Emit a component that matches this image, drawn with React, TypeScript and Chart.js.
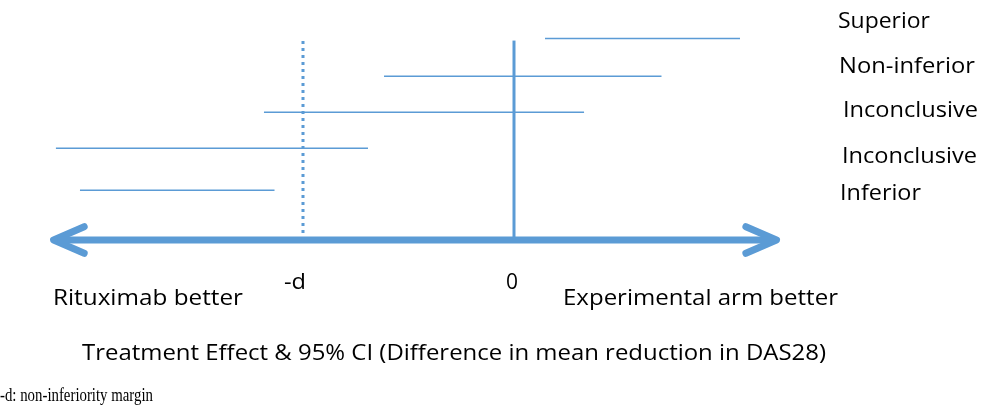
import React, { useEffect, useRef } from "react";
import { Chart, registerables } from "chart.js";

Chart.register(...registerables);

// ---- data ----
const outcomes = ["Superior", "Non-inferior", "Inconclusive", "Inconclusive", "Inferior"];
const ciLower = [0.147, -0.616, -1.185, -2.171, -2.057];
const ciUpper = [1.071, 0.699, 0.332, -0.692, -1.135];
const rowLevel = [5.6, 4.55, 3.55, 2.55, 1.38];
const marginValue = -1; // -d
const tickValues = [-1, 0];
const tickLabels = ["-d", "0"];
const axisEnds = [-2.182, 1.244];
const sideLabels = ["Rituximab better", "Experimental arm better"];
const axisTitle = "Treatment Effect & 95% CI (Difference in mean reduction in DAS28)";
const footnote = "-d: non-inferiority margin";

// ---- layout / style ----
const W = 982;
const H = 414;
const BLUE = "#5B9BD5";
const SANS = "'Open Sans'";
const X_MIN = -2.436;
const X_MAX = 2.218;
const Y_MIN = -4.833;
const Y_MAX = 6.667;
const REF_TOP_ZERO = 5.54;
const REF_TOP_MARGIN = 5.57;
const BARB_DX = 0.145;
const BARB_DY = 0.37;
const FONT = 21;

type TextItem = { text: string; x: number; y: number; w: number; size: number; family: string };

const outcomeLayout = [
  { x: 838, y: 28, w: 92 },
  { x: 839, y: 73, w: 136 },
  { x: 843, y: 117, w: 135 },
  { x: 842, y: 163, w: 135 },
  { x: 840, y: 200, w: 81 },
];

function drawText(ctx: CanvasRenderingContext2D, t: TextItem) {
  ctx.save();
  ctx.font = `${t.size}px ${t.family}`;
  const m = ctx.measureText(t.text).width || 1;
  ctx.translate(t.x, t.y);
  ctx.scale(t.w / m, 1);
  ctx.fillStyle = "#000";
  ctx.textBaseline = "alphabetic";
  ctx.textAlign = "left";
  ctx.fillText(t.text, 0, 0);
  ctx.restore();
}

const textPlugin = {
  id: "textPlugin",
  afterDraw(chart: any) {
    const ctx: CanvasRenderingContext2D = chart.ctx;
    const xs = chart.scales.x;
    outcomes.forEach((label, i) => {
      const l = outcomeLayout[i];
      drawText(ctx, { text: label, x: l.x, y: l.y, w: l.w, size: FONT, family: SANS });
    });
    const tickW = [22, 12];
    const tickShift = [-8, -2];
    tickValues.forEach((v, i) => {
      const px = xs.getPixelForValue(v);
      drawText(ctx, { text: tickLabels[i], x: px - tickW[i] / 2 + tickShift[i], y: 289, w: tickW[i], size: FONT, family: SANS });
    });
    drawText(ctx, { text: sideLabels[0], x: 53, y: 305, w: 190, size: FONT, family: SANS });
    drawText(ctx, { text: sideLabels[1], x: 563, y: 305, w: 275, size: FONT, family: SANS });
    drawText(ctx, { text: axisTitle, x: 82, y: 360, w: 744, size: FONT, family: SANS });
    drawText(ctx, { text: footnote, x: 0, y: 401, w: 153, size: 19.5, family: "'Liberation Serif'" });
  },
};

export default function App() {
  const ref = useRef<HTMLCanvasElement | null>(null);
  useEffect(() => {
    if (!ref.current) return;
    const ciSets = outcomes.map((_, i) => ({
      data: [
        { x: ciLower[i], y: rowLevel[i] },
        { x: ciUpper[i], y: rowLevel[i] },
      ],
      borderColor: BLUE,
      borderWidth: 1.5,
      pointRadius: 0,
      showLine: true,
    }));
    const datasets: any[] = [
      ...ciSets,
      {
        data: [
          { x: 0, y: 0 },
          { x: 0, y: REF_TOP_ZERO },
        ],
        borderColor: BLUE,
        borderWidth: 3,
        pointRadius: 0,
        showLine: true,
      },
      {
        data: [
          { x: marginValue, y: 0 },
          { x: marginValue, y: REF_TOP_MARGIN },
        ],
        borderColor: BLUE,
        borderWidth: 3,
        borderDash: [3, 4],
        pointRadius: 0,
        showLine: true,
      },
      {
        data: [
          { x: axisEnds[0] + 0.02, y: 0 },
          { x: axisEnds[1] - 0.02, y: 0 },
        ],
        borderColor: BLUE,
        borderWidth: 7,
        pointRadius: 0,
        showLine: true,
      },
      {
        data: [
          { x: axisEnds[0] + BARB_DX, y: BARB_DY },
          { x: axisEnds[0], y: 0 },
          { x: axisEnds[0] + BARB_DX, y: -BARB_DY },
        ],
        borderColor: BLUE,
        borderWidth: 7,
        borderCapStyle: "round",
        borderJoinStyle: "round",
        pointRadius: 0,
        showLine: true,
      },
      {
        data: [
          { x: axisEnds[1] - BARB_DX, y: BARB_DY },
          { x: axisEnds[1], y: 0 },
          { x: axisEnds[1] - BARB_DX, y: -BARB_DY },
        ],
        borderColor: BLUE,
        borderWidth: 7,
        borderCapStyle: "round",
        borderJoinStyle: "round",
        pointRadius: 0,
        showLine: true,
      },
    ];
    const chart = new Chart(ref.current, {
      type: "scatter",
      data: { datasets },
      options: {
        animation: false,
        responsive: false,
        events: [],
        layout: { padding: 0 },
        plugins: { legend: { display: false }, tooltip: { enabled: false } },
        scales: {
          x: { type: "linear", min: X_MIN, max: X_MAX, display: false },
          y: { type: "linear", min: Y_MIN, max: Y_MAX, display: false },
        },
      },
      plugins: [textPlugin],
    } as any);
    return () => chart.destroy();
  }, []);
  return (
    <div style={{ position: "fixed", left: 0, top: 0, width: W, height: H, background: "#fff" }}>
      <canvas ref={ref} width={W} height={H} style={{ width: W, height: H, display: "block" }} />
    </div>
  );
}
